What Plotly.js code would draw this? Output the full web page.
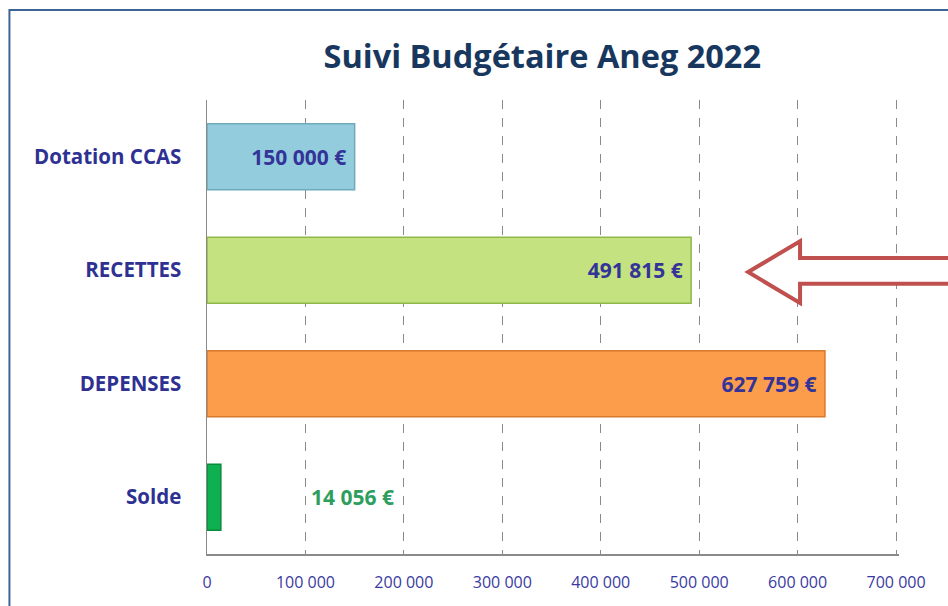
<!DOCTYPE html>
<html><head><meta charset="utf-8">
<script src="https://cdn.plot.ly/plotly-3.0.1.min.js"></script>
<style>html,body{margin:0;padding:0;background:#fff;}#chart{width:948px;height:606px;}</style>
</head><body><div id="chart"></div>
<script>
var categories = ["Dotation CCAS", "RECETTES", "DEPENSES", "Solde"];
var values = [150000, 491815, 627759, 14056];
var valueLabels = ["150 000 €", "491 815 €", "627 759 €", "14 056 €"];
var barColors = ["#93cddd", "#c4e27f", "#fb9d4a", "#0fb04f"];
var barEdges = ["#6fa9ba", "#8fb84a", "#d87a2c", "#0a8a3c"];
var xTicks = [0, 100000, 200000, 300000, 400000, 500000, 600000, 700000];
var xTickLabels = ["0", "100 000", "200 000", "300 000", "400 000", "500 000", "600 000", "700 000"];

var n = categories.length;
var mainText = valueLabels.map(function(t, i){ return i === n - 1 ? "" : t + "\u00a0"; });

var trace = {
  type: "bar", orientation: "h",
  y: categories, x: values,
  width: 0.58,
  marker: {color: barColors, line: {color: barEdges, width: 1.5}},
  text: mainText, textposition: "inside", insidetextanchor: "end",
  textfont: {family: "Open Sans, sans-serif", size: 21, color: "#333399", weight: "bold"},
  cliponaxis: false, hoverinfo: "skip"
};

var layout = {
  width: 948, height: 606,
  margin: {l: 207, r: 49, t: 100, b: 52},
  paper_bgcolor: "#ffffff", plot_bgcolor: "#ffffff",
  showlegend: false,
  title: {text: "<b>Suivi Budgétaire Aneg 2022</b>", xref: "container", x: 0.572, xanchor: "center",
          yref: "container", y: 0.906, yanchor: "middle",
          font: {family: "Open Sans, sans-serif", size: 32.5, color: "#17375e"}},
  xaxis: {range: [0, 703000], tickvals: xTicks, ticktext: xTickLabels,
          showgrid: true, gridcolor: "#8a8a8a", griddash: "dash", gridwidth: 1,
          zeroline: false, showline: true, linecolor: "#8a8a8a", linewidth: 1.5,
          ticks: "outside", ticklen: 13, tickcolor: "rgba(0,0,0,0)",
          tickfont: {family: "Open Sans, sans-serif", size: 16, color: "#3a3aa0"},
          fixedrange: true},
  yaxis: {categoryorder: "array", categoryarray: categories, autorange: "reversed",
          range: [n - 0.5, -0.5],
          showgrid: false, zeroline: false, showline: true, linecolor: "#8a8a8a", linewidth: 1.5,
          ticks: "outside", ticklen: 20, tickcolor: "rgba(0,0,0,0)",
          tickfont: {family: "Open Sans, sans-serif", size: 20.5, color: "#2e3192", weight: "bold"},
          fixedrange: true},
  annotations: [{
    x: values[n - 1], y: categories[n - 1], xref: "x", yref: "y",
    text: "<b>" + valueLabels[n - 1] + "</b>", showarrow: false,
    xanchor: "left", xshift: 88,
    font: {family: "Open Sans, sans-serif", size: 21, color: "#2e9e5e"}
  }],
  shapes: [
    {type: "rect", xref: "paper", yref: "paper", x0: -0.2855, x1: 1.3, y0: -0.3, y1: 1.198,
     line: {color: "#3c6595", width: 2}, fillcolor: "rgba(0,0,0,0)", layer: "above"},
    {type: "path", xref: "paper", yref: "paper",
     path: "M 0.782 0.621 L 0.857 0.689 L 0.857 0.652 L 1.12 0.652 L 1.12 0.595 L 0.857 0.595 L 0.857 0.553 Z",
     line: {color: "#c0504d", width: 4}, fillcolor: "#ffffff", layer: "above"}
  ]
};

Plotly.newPlot("chart", [trace], layout, {displayModeBar: false, staticPlot: true});
</script></body></html>
